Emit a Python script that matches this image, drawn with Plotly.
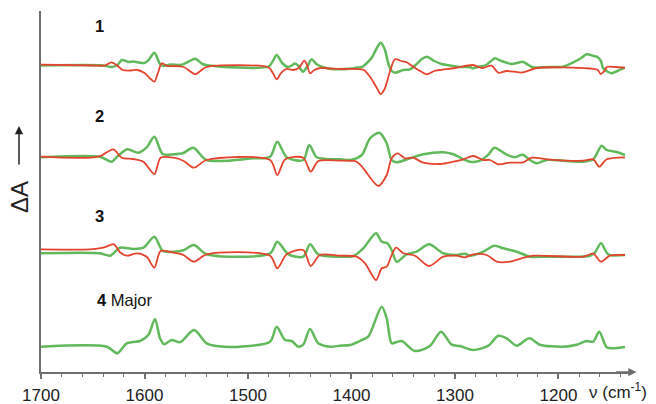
import plotly.graph_objects as go

# ---------------- data (wavenumber, cm-1 ; ΔA arbitrary units) ----------------
# Spectrum 1
wn_1g = [1700, 1640, 1632, 1626, 1622, 1615, 1611, 1600, 1596, 1590.5, 1585, 1582, 1575, 1565, 1558, 1551, 1544, 1538,
         1480, 1476, 1472.3, 1467, 1461.4, 1457, 1454.6, 1451, 1447, 1443, 1438.5, 1434, 1428, 1420, 1400, 1395, 1390,
         1385, 1380, 1376, 1371.8, 1368, 1364, 1361, 1358, 1350, 1343.5, 1337, 1332, 1327.3, 1320, 1313, 1308, 1295,
         1285, 1282.6, 1278, 1270, 1264, 1261.4, 1255, 1245, 1240, 1234.6, 1229, 1224.6, 1210, 1195.6, 1185, 1178,
         1172.8, 1166, 1163, 1159, 1157, 1152, 1148.6, 1143, 1136]
da_1g = [1.5, 1.5, 0, 2, 7, 5, 5.5, 4, 7, 14.3, 3, 1, 2.5, 2, 5, 8.3, 3, 1.5,
         0.5, 6, 12, 4, 0, 2, 3.5, 1, -4.7, 0, 7.7, 3, 0, -2, -1.5, -0.5, 0,
         4, 10, 18, 24.3, 18, 2, -4, -5.7, -3, -2.3, 3, 8, 10.3, 6, 3, 2, 0,
         -0.3, -1.3, 0, 2, 7, 8.7, 6, 3, 4, 5.3, 2, -0.3, 0, 0.3, 5, 9,
         12.7, 11, 10.3, 6, -1, -5, -6.3, -4, -0.7]
wn_1r = [1700, 1650, 1638, 1632, 1627, 1621, 1613, 1607, 1600, 1594, 1590.5, 1587, 1583.4, 1578, 1570, 1562, 1555,
         1551, 1546, 1540, 1480, 1476, 1472.3, 1468, 1463, 1456.5, 1451, 1445.6, 1443, 1440, 1436, 1430, 1420, 1410,
         1395, 1388, 1382, 1376, 1371.8, 1368, 1363, 1358, 1352, 1346.7, 1340, 1332, 1327.3, 1320, 1314.5, 1300,
         1282.6, 1276, 1273, 1264.5, 1258.2, 1250, 1235.6, 1221, 1195.6, 1169.6, 1162, 1159.2, 1155, 1153.4, 1145, 1135.7]
da_1r = [2.3, 1.5, 1.5, 4.7, 2, -3, -3.5, -3, -6, -12, -14.7, -6, 3.7, 1, 1, 0, -5,
         -7.3, -4, 0, -0.5, -6, -12.3, -6, -2, -3, -1, 6.3, 2, -6.3, -3, -1, -1.5, -2,
         -2, -3, -10, -20, -27, -22, -5, 7.7, 6, 4.7, 0, -5, -7.3, -4, -3, -1,
         2, -0.5, -1, 1.3, -5.7, -4, -5.5, -1, -0.3, -1.5, -3, -7, -3, 0, 0, -0.7]

# Spectrum 2
wn_2g = [1700, 1643, 1631.7, 1626.3, 1616.6, 1606, 1597.9, 1590.5, 1582.4, 1572, 1562.5, 1552.9, 1540, 1494.9, 1478.7,
         1471.7, 1462.6, 1446.6, 1440.8, 1433.6, 1424, 1411, 1401.4, 1390.1, 1382.1, 1373.1, 1366, 1361.2, 1356.3,
         1343.5, 1330.6, 1311.3, 1301.6, 1292, 1285.5, 1275.8, 1267.8, 1262, 1250, 1242, 1234.6, 1227.5, 1221.1,
         1211.4, 1195.4, 1176, 1166.4, 1158.3, 1153.4, 1143.8, 1135.7]
da_2g = [0.7, 1.3, -3.7, 1.5, 8.7, 5.3, 10.7, 21.3, 4, 3.7, 5, 10.3, -2, -0.3, 1.3,
         16.3, 0.7, -2, 13, 0.7, -1, -1.3, -2, 3, 19.7, 25.3, 14.7, -2, -4.3,
         -0.3, 3.7, 5.7, 3.7, -1.3, -3.7, -2.7, 3.3, 10.3, 3.3, 0.7, 3.3, -2, -5.3,
         -2, -2.7, -3.7, -1.3, 12.3, 8, 6, 3]
wn_2r = [1700, 1644.6, 1630.1, 1622, 1610.8, 1601, 1590.5, 1584.4, 1572, 1562.5, 1552.2, 1540, 1478.7, 1471.7, 1464,
         1446.6, 1439.4, 1432, 1411, 1395, 1388.6, 1374, 1366, 1361.2, 1355.4, 1348.3, 1340.4, 1330.6, 1314.5,
         1301.6, 1292, 1282.3, 1272.6, 1266.2, 1258.2, 1246.9, 1234, 1225.9, 1211.4, 1176, 1166.4, 1160.6, 1153.4, 1135.7]
da_2r = [1.3, 1.3, 8.7, 0.3, -1, -3.7, -16, 0.3, 0.3, -2.7, -9.7, -2, -2, -17, -1.3,
         0.3, -13.7, -3, -2.7, -3.7, -10.3, -28, -17, -0.3, 4.7, -0.3, 0.3, -4.7, -6,
         -3.7, -1.3, 2, -2, -2, -6.3, -4.7, -4.3, 0.3, -1.3, -2.7, -1.3, -8.7, -1.3, 0.7]

# Spectrum 3
wn_3g = [1700, 1643, 1633.3, 1623.7, 1610.8, 1601, 1590.5, 1582.4, 1572.2, 1562.5, 1552.2, 1540, 1478.7, 1471.7, 1461,
         1446.6, 1440, 1432, 1411, 1398.2, 1388.6, 1376.3, 1370.8, 1365.4, 1361.2, 1356.3, 1346.7, 1337, 1325.1,
         1311.3, 1298.4, 1290.3, 1285.5, 1272.7, 1262, 1253.3, 1240.4, 1227.5, 1214.7, 1169.6, 1164.7, 1158.9,
         1151.9, 1135.7]
da_3g = [0.7, 0.7, -1.7, 6.3, 5, 6.3, 17.3, 3, 2.3, 3.7, 9, -0.3, 0.7, 12.3, -0.3,
         -2.7, 9.7, -0.3, -2.7, -2, 5.7, 20.7, 12.3, 10.7, 4, -7.7, -0.3, 2.3, 9.7,
         0.7, -1, 0.3, -1.7, 2.3, 8.3, 5.7, 2.3, -2.7, -2.7, -1.7, 1.7, 10.7,
         -0.3, -1]
wn_3r = [1700, 1652.7, 1639.8, 1629.5, 1623.7, 1617.2, 1607.5, 1597.9, 1590.5, 1584.4, 1572.2, 1562.5, 1552.2, 1540,
         1478.7, 1471.7, 1462.6, 1446.6, 1439.4, 1430.4, 1411, 1395, 1386.9, 1376.3, 1370.8, 1366, 1361.8, 1357,
         1349.9, 1338.6, 1325.1, 1311.3, 1298.4, 1290.3, 1282.3, 1269.4, 1259.7, 1246.9, 1235.6, 1224.4, 1176,
         1166.4, 1158.9, 1150.3, 1135.7]
da_3r = [4.7, 4.7, 6.3, 9.7, 1.7, -1.7, 0.7, -2.7, -13.7, 3, 1.3, -1, -7.7, -0.3,
         -1.7, -14.3, -0.3, 4, -12, -1, -1.7, -2.7, -9.3, -26, -14.3, -12.7, -2.7, 6.3,
         0.7, -1.7, -12, -2.7, -1.7, -3.3, -0.3, -1, -7.7, -7.7, -4.3, -1.7, -2.7,
         0.3, -7.7, -1.7, -1]

# Spectrum 4 (major)
wn_4 = [1700, 1636.5, 1626.3, 1617.2, 1610.8, 1604.3, 1596.3, 1589.9, 1585, 1581.2, 1573.7, 1565.7, 1552.2, 1540,
        1530.2, 1507.7, 1478.7, 1472.3, 1464.3, 1457.8, 1451.4, 1446.6, 1440.1, 1432.1, 1420.8, 1411.1, 1401.4,
        1390.1, 1383.8, 1370.8, 1366, 1361.2, 1356.3, 1351.5, 1338.6, 1324.2, 1313.5, 1303.2, 1295.2, 1282.3,
        1267.8, 1258.2, 1250.1, 1240.4, 1228.2, 1217.9, 1195.4, 1182.4, 1172.8, 1166.4, 1160.6, 1153.4, 1147, 1135.7]
da_4 = [0.3, 0.3, -6.3, 3.7, 5, 6, 12, 28, 8.7, 2.7, 7, 4.7, 17, 3.7,
        1, 0.3, 5.3, 20.3, 7, 6, 0.3, 2.3, 18, 3.7, 0.3, 1.3, 2,
        7, 10.3, 40.3, 28.7, 3.7, 5, 6, -4, 1, 15.3, 2.3, 1, -3,
        1.3, 11.3, 8.7, 1.3, 8.7, 2.3, 0.3, 2.3, 6, 5.3, 15.3, -0.3, -1.3, 0]

labels = ["1", "2", "3", "4"]
tick_vals = [1700, 1600, 1500, 1400, 1300, 1200]

# ---------------- figure ----------------
GREEN = "#62b95c"
RED = "#e4432d"
offsets = [305, 214, 118, 25]

series = [
    [(wn_1g, da_1g, GREEN), (wn_1r, da_1r, RED)],
    [(wn_2g, da_2g, GREEN), (wn_2r, da_2r, RED)],
    [(wn_3g, da_3g, GREEN), (wn_3r, da_3r, RED)],
    [(wn_4, da_4, GREEN)],
]

fig = go.Figure()
for off, group in zip(offsets, series):
    for wn, da, col in group:
        fig.add_trace(go.Scatter(
            x=wn, y=[v + off for v in da], mode="lines",
            line=dict(color=col, width=2.5 if col == GREEN else 1.8, shape="spline", smoothing=0.8),
            showlegend=False, hoverinfo="skip"))

fig.update_layout(
    width=656, height=404,
    margin=dict(l=41, r=23, t=11, b=32, autoexpand=False),
    paper_bgcolor="white", plot_bgcolor="white",
    font=dict(family="Liberation Sans, Arial, sans-serif", color="#222222"),
    xaxis=dict(range=[1700, 1128], showgrid=False, zeroline=False, automargin=False,
               showline=True, linecolor="#6f6f6f", linewidth=1.5,
               tickmode="array", tickvals=tick_vals, ticktext=[str(t) for t in tick_vals],
               ticks="outside", ticklen=5, tickwidth=1.5, tickcolor="#6f6f6f",
               ticklabelstandoff=2,
               tickfont=dict(size=17, color="#222222"),
               minor=dict(tick0=1700, dtick=20, ticks="outside", ticklen=3, tickwidth=1.3, tickcolor="#6f6f6f")),
    yaxis=dict(range=[0, 361], showgrid=False, zeroline=False, showticklabels=False, automargin=False,
               showline=True, linecolor="#6f6f6f", linewidth=1.5, ticks=""),
)

# spectrum labels
label_pos = [(99, 26), (99, 116), (99, 216), (95, 300)]
for lab, (px, py) in zip(labels, label_pos):
    txt = "<b>%s</b>" % lab if lab != "4" else "<b>4</b> Major"
    fig.add_annotation(x=(px - 41) / 592, y=(372 - py) / 361, xref="paper", yref="paper",
                       text=txt, showarrow=False, xanchor="left" if lab == "4" else "center",
                       yanchor="middle", font=dict(size=16.5, color="#111111"))

# y axis title
fig.add_annotation(x=(19 - 41) / 592, y=(372 - 197) / 361, xref="paper", yref="paper",
                   text="ΔA", textangle=-90, showarrow=False, xanchor="center", yanchor="middle",
                   font=dict(size=24, color="#222222"))
fig.add_annotation(x=(19 - 41) / 592, y=(372 - 126) / 361, xref="paper", yref="paper",
                   ax=0, ay=40, text="", showarrow=True, arrowhead=2, arrowsize=1.1,
                   arrowwidth=1.5, arrowcolor="#222222")

# x axis arrow and title
fig.add_annotation(x=1.006, y=0, xref="paper", yref="paper", ax=-22, ay=0, text="",
                   showarrow=True, arrowhead=2, arrowsize=1.1, arrowwidth=1.5, arrowcolor="#6f6f6f")
fig.add_annotation(x=(587 - 41) / 592, y=(372 - 391) / 361, xref="paper", yref="paper",
                   text="ν (cm<sup>-1</sup>)", showarrow=False, xanchor="left", yanchor="middle",
                   font=dict(size=17, color="#222222"))

fig.write_html("out.html", config={"displayModeBar": False},
               post_script="document.body.style.margin='0';document.body.style.padding='0';")
